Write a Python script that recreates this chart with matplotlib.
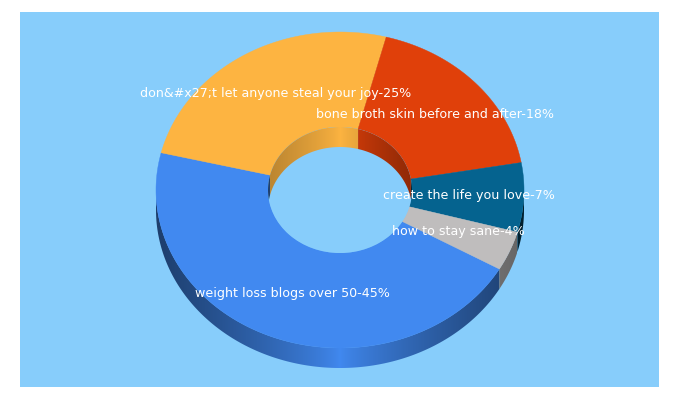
#Recreates the 3D-looking donut of top keywords, wedges built from the shares
import numpy as np
import matplotlib
matplotlib.use('Agg')
import matplotlib.pyplot as plt
from matplotlib.patches import Ellipse, Polygon, Rectangle

#Data, clockwise starting from the lower right
labels = ['weight loss blogs over 50-45%', 'don&#x27;t let anyone steal your joy-25%',
          'bone broth skin before and after-18%', 'create the life you love-7%',
          'how to stay sane-4%']
shares = [45, 25, 18, 7, 4]
colors = ['#4189f0', '#fdb441', '#e0400a', '#05638f', '#bfbdbd']
wall_dark = [0.45, 0.72, 0.62, 0.32, 0.53]    #how dark a wall gets at the rim of the donut

#Where each label starts (pixels)
label_x = [195, 140, 316, 383, 392]
label_y = [293, 94, 114, 195, 232]

BG = '#87cdfb'
CX, CY = 340, 190       #centre of the top face
RX, RY = 184, 158       #outer radii
IRX, IRY = 72, 63       #inner radii
DEPTH = 20
START = 120             #degrees clockwise from the top


def edge(theta, rx, ry, dy=0):
    t = np.radians(theta)
    return np.column_stack([CX + rx*np.sin(t), CY - ry*np.cos(t) + dy])


def shaded(poly, color, dark, rx, zorder):
    #Horizontal gradient clipped to the wall outline, brightest at the middle of the donut
    x0, x1 = poly[:, 0].min(), poly[:, 0].max()
    y0, y1 = poly[:, 1].min(), poly[:, 1].max()
    xs = np.linspace(x0, x1, max(int(x1 - x0)*2, 2))
    f = np.clip(np.abs(xs - CX)/rx, 0, 1)**0.8
    base = np.array(matplotlib.colors.to_rgb(color))
    img = (base[None, :]*(1 - (1 - dark)*f)[:, None])[None, :, :]
    im = ax.imshow(img, extent=(x0, x1, y1, y0), aspect='auto', interpolation='bilinear', zorder=zorder)
    im.set_clip_path(Polygon(poly, closed=True, transform=ax.transData))


fig = plt.figure(figsize=(6.8, 4.0), dpi=100, facecolor='white')
ax = fig.add_axes([0, 0, 1, 1])
ax.add_patch(Rectangle((20, 12), 639, 375, facecolor=BG, edgecolor='none', zorder=0))

#Slice limits from the shares
angles = START + np.cumsum([0] + shares)/sum(shares)*360

#Outer wall first, only the front half (90 to 270 degrees) shows
for i in range(len(shares)):
    a = np.linspace(angles[i], angles[i+1], 400) % 360
    a = np.sort(a[(a >= 90) & (a <= 270)])
    if len(a) < 2:
        continue
    poly = np.vstack([edge(a, RX, RY), edge(a[::-1], RX, RY, DEPTH)])
    shaded(poly, colors[i], wall_dark[i], RX, 1)

#Top faces
for i in range(len(shares)):
    th = np.linspace(angles[i], angles[i+1], 200)
    ring = np.vstack([edge(th, RX, RY), edge(th[::-1], IRX, IRY)])
    ax.add_patch(Polygon(ring, closed=True, facecolor=colors[i], edgecolor=colors[i], linewidth=0.3, zorder=2))

#Hole and inner wall, the back half shows through the hole
ax.add_patch(Ellipse((CX, CY), 2*IRX, 2*IRY, facecolor=BG, edgecolor='none', zorder=3))
for i in range(len(shares)):
    a = np.linspace(angles[i], angles[i+1], 400) % 360
    a = a[(a <= 90) | (a >= 270)]
    if len(a) < 2:
        continue
    a = np.sort(np.where(a >= 270, a - 360, a))
    top = edge(a, IRX, IRY)
    #wall ends where the lower rim of the hole starts
    low_limit = 2*CY - top[:, 1]
    low = np.column_stack([top[:, 0], np.minimum(top[:, 1] + DEPTH, low_limit)])
    shaded(np.vstack([top, low[::-1]]), colors[i], wall_dark[i] + 0.02, IRX, 4)

for name, x, y in zip(labels, label_x, label_y):
    ax.text(x, y, name, color='white', fontsize=9.1, family='DejaVu Sans',
            ha='left', va='center', zorder=6)

ax.set_xlim(0, 680)
ax.set_ylim(400, 0)
ax.axis('off')
plt.savefig('out.png', dpi=100, facecolor='white')
